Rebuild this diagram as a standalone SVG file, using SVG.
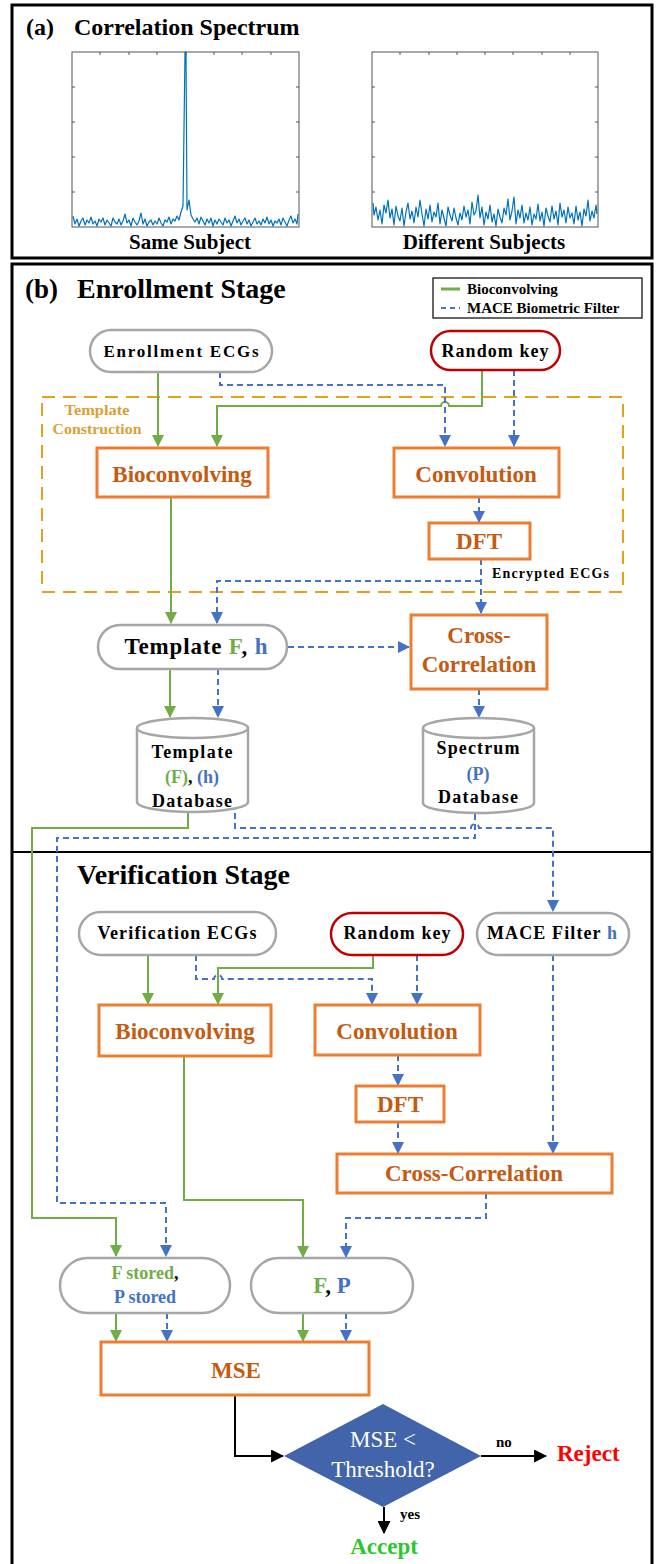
<svg xmlns="http://www.w3.org/2000/svg" width="659" height="1564" viewBox="0 0 659 1564" font-family="'Liberation Serif','Times New Roman',serif">
<style>
text{font-family:"Liberation Serif","Times New Roman",serif;font-weight:bold;}
.frame{fill:none;stroke:#000;stroke-width:3;}
.plot{fill:#fff;stroke:#555;stroke-width:1;}
.tick{fill:none;stroke:#555;stroke-width:1;}
.sig{fill:none;stroke:#0072BD;stroke-width:1.2;stroke-linejoin:round;}
.proc{fill:#fff;stroke:#ED7D31;stroke-width:3;}
.ptxt{fill:#C55A11;font-size:23px;text-anchor:middle;}
.pill{fill:#fff;stroke:#A6A6A6;stroke-width:2.5;}
.key{fill:#fff;stroke:#C00000;stroke-width:2.5;}
.ntxt{text-anchor:middle;}
.g{fill:none;stroke:#70AD47;stroke-width:2;}
.b{fill:none;stroke:#4472C4;stroke-width:2;stroke-dasharray:6,4;}
.k{fill:none;stroke:#000;stroke-width:2;}
.gt{fill:#70AD47;}
.bt{fill:#4472C4;}
</style>
<defs>
<marker id="ag" viewBox="0 0 12 12" refX="11" refY="6" markerWidth="12" markerHeight="13" markerUnits="userSpaceOnUse" orient="auto"><path d="M0,0 L12,6 L0,12 z" fill="#70AD47"/></marker>
<marker id="ab" viewBox="0 0 12 12" refX="11" refY="6" markerWidth="12" markerHeight="13" markerUnits="userSpaceOnUse" orient="auto"><path d="M0,0 L12,6 L0,12 z" fill="#4472C4"/></marker>
<marker id="ak" viewBox="0 0 12 12" refX="11" refY="6" markerWidth="13" markerHeight="13" markerUnits="userSpaceOnUse" orient="auto"><path d="M0,0 L12,6 L0,12 z" fill="#000"/></marker>
</defs>
<rect width="659" height="1564" fill="#fff"/>

<!-- Panel (a) -->
<g id="panel-a">
<rect class="frame" x="12" y="5" width="640" height="253"/>
<text x="26" y="35" font-size="24">(a)</text>
<text x="74" y="35" font-size="24">Correlation Spectrum</text>
<rect class="plot" x="72" y="52" width="227" height="175"/>
<path class="tick" d="M100,52v3M129,52v3M157,52v3M186,52v3M214,52v3M242,52v3M271,52v3M72,87h3M72,122h3M72,157h3M72,192h3M299,87h-3M299,122h-3M299,157h-3M299,192h-3"/>
<polyline class="sig" points="73,216 75,224 77,219 79,226 81,221 83,218 85,225 87,220 89,223 91,217 93,224 95,221 97,226 99,219 101,222 103,218 105,225 107,220 109,223 111,226 113,218 115,222 117,224 119,219 121,225 123,221 125,214 127,223 129,220 131,226 133,218 135,222 137,225 139,221 141,213 143,224 145,219 147,226 149,222 151,220 153,225 155,221 157,224 159,218 161,223 163,226 165,220 167,222 169,217 171,224 173,219 175,221 177,216 179,220 181,212 183,206 185,52 186,52 187,210 189,200 191,215 193,219 195,222 197,218 199,224 201,217 203,221 205,225 207,219 209,223 211,218 213,226 215,220 217,224 219,219 221,222 223,225 225,218 227,223 229,220 231,226 233,221 235,216 237,223 239,219 241,225 243,221 245,218 247,224 249,220 251,226 253,222 255,218 257,224 259,221 261,225 263,219 265,223 267,217 269,224 271,220 273,226 275,221 277,223 279,219 281,225 283,218 285,222 287,226 289,220 291,216 293,223 295,219 297,224 298,214"/>
<text x="190" y="249" font-size="21" text-anchor="middle">Same Subject</text>
<rect class="plot" x="372" y="52" width="226" height="175"/>
<path class="tick" d="M400,52v3M429,52v3M457,52v3M485,52v3M513,52v3M542,52v3M570,52v3M372,87h3M372,122h3M372,157h3M372,192h3M598,87h-3M598,122h-3M598,157h-3M598,192h-3"/>
<polyline class="sig" points="373,203 374,215 376,207 378,220 380,210 382,224 384,205 386,213 388,200 390,218 392,209 394,225 396,206 398,216 400,221 402,208 404,226 406,212 408,203 410,219 412,211 414,223 416,207 418,217 420,200 422,214 424,226 426,209 428,219 430,205 432,222 434,212 436,217 438,203 440,224 442,210 444,218 446,226 448,207 450,215 452,221 454,208 456,218 458,225 460,213 462,220 464,206 466,217 468,210 470,224 472,202 474,215 476,211 478,195 480,218 482,207 484,225 486,212 488,219 490,205 492,222 494,214 496,226 498,209 500,217 502,223 504,208 506,215 508,199 510,220 512,211 514,197 516,224 518,210 520,218 522,205 524,223 526,213 528,220 530,207 532,225 534,214 536,219 538,204 540,221 542,212 544,226 546,208 548,216 550,222 552,206 554,219 556,211 558,225 560,203 562,217 564,210 566,223 568,207 570,218 572,213 574,224 576,206 578,220 580,212 582,226 584,209 586,216 588,200 590,221 592,211 594,218 596,205 597,214"/>
<text x="484" y="249" font-size="21" text-anchor="middle">Different Subjects</text>
</g>

<!-- Panel (b) frame -->
<g id="panel-b">
<rect class="frame" x="12" y="264" width="640" height="1310"/>
<line x1="12" y1="852" x2="652" y2="852" stroke="#000" stroke-width="2"/>
<text x="25" y="298" font-size="27">(b)</text>
<text x="77" y="298" font-size="28">Enrollment Stage</text>
<text x="77" y="884" font-size="28">Verification Stage</text>
</g>

<g id="legend">
<rect x="433" y="278" width="209" height="40" fill="#fff" stroke="#333" stroke-width="1.5"/>
<line x1="441" y1="289" x2="460" y2="289" stroke="#70AD47" stroke-width="3"/>
<line x1="441" y1="308" x2="460" y2="308" stroke="#4472C4" stroke-width="2" stroke-dasharray="5,4"/>
<text x="467" y="294" font-size="15">Bioconvolving</text>
<text x="467" y="313" font-size="15">MACE Biometric Filter</text>
</g>

<g id="template-construction">
<rect x="42" y="397" width="581" height="195" fill="none" stroke="#E3A21A" stroke-width="2" stroke-dasharray="13,8"/>
<text x="97" y="415" font-size="15" fill="#DBA035" text-anchor="middle" textLength="65" lengthAdjust="spacingAndGlyphs">Template</text>
<text x="97" y="434" font-size="15" fill="#DBA035" text-anchor="middle" textLength="89" lengthAdjust="spacingAndGlyphs">Construction</text>
</g>

<!-- Connectors -->
<g id="connectors">
<path class="g" d="M158,372V446" marker-end="url(#ag)"/>
<path class="g" d="M482,370V406H449A4,4 0 0 0 441,406H217V446" marker-end="url(#ag)"/>
<path class="b" d="M220,372V385H445V446" marker-end="url(#ab)"/>
<path class="b" d="M514,370V446" marker-end="url(#ab)"/>
<path class="b" d="M479,497V522" marker-end="url(#ab)"/>
<path class="b" d="M481,559V613" marker-end="url(#ab)"/>
<path class="b" d="M481,581H217V623" marker-end="url(#ab)"/>
<path class="g" d="M171,497V623" marker-end="url(#ag)"/>
<path class="b" d="M288,647H409" marker-end="url(#ab)"/>
<path class="g" d="M170,669V717" marker-end="url(#ag)"/>
<path class="b" d="M218,669V717" marker-end="url(#ab)"/>
<path class="b" d="M479,689V717" marker-end="url(#ab)"/>
<path class="g" d="M188,813V828H32V1218H116V1256" marker-end="url(#ag)"/>
<path class="b" d="M475,814V838H57V1203H166V1256" marker-end="url(#ab)"/>
<path class="b" d="M235,813V828H471A4,4 0 0 1 479,828H553V911" marker-end="url(#ab)"/>
<path class="g" d="M148,955V1004" marker-end="url(#ag)"/>
<path class="g" d="M373,955V968H218V1004" marker-end="url(#ag)"/>
<path class="b" d="M196,955V979H214A4,4 0 0 1 222,979H372V1004" marker-end="url(#ab)"/>
<path class="b" d="M417,955V1004" marker-end="url(#ab)"/>
<path class="b" d="M398,1055V1085" marker-end="url(#ab)"/>
<path class="b" d="M398,1122V1153" marker-end="url(#ab)"/>
<path class="b" d="M553,955V1153" marker-end="url(#ab)"/>
<path class="g" d="M184,1056V1200H303V1257" marker-end="url(#ag)"/>
<path class="b" d="M486,1193V1218H346V1257" marker-end="url(#ab)"/>
<path class="g" d="M116,1313V1341" marker-end="url(#ag)"/>
<path class="b" d="M167,1313V1341" marker-end="url(#ab)"/>
<path class="g" d="M303,1313V1341" marker-end="url(#ag)"/>
<path class="b" d="M346,1313V1341" marker-end="url(#ab)"/>
<path class="k" d="M235,1395V1456H283" marker-end="url(#ak)"/>
<path class="k" d="M481,1456H546" marker-end="url(#ak)"/>
<path class="k" d="M384,1507V1533" marker-end="url(#ak)"/>
<text x="496" y="1447" font-size="15">no</text>
<text x="400" y="1519" font-size="15">yes</text>
</g>

<!-- Enrollment nodes -->
<g id="enroll-ecgs">
<rect class="pill" x="90" y="330" width="182" height="42" rx="21"/>
<text class="ntxt" x="181" y="357" font-size="17" textLength="155" lengthAdjust="spacing">Enrollment ECGs</text>
</g>
<g id="enroll-key">
<rect class="key" x="431" y="331" width="129" height="39" rx="19.5"/>
<text class="ntxt" x="495" y="357" font-size="18" textLength="107" lengthAdjust="spacing">Random key</text>
</g>
<g id="enroll-bioconv">
<rect class="proc" x="97" y="448" width="171" height="49"/>
<text class="ptxt" x="182" y="482">Bioconvolving</text>
</g>
<g id="enroll-conv">
<rect class="proc" x="394" y="448" width="165" height="49"/>
<text class="ptxt" x="476" y="482">Convolution</text>
</g>
<g id="enroll-dft">
<rect class="proc" x="429" y="523" width="101" height="36"/>
<text class="ptxt" x="479" y="549">DFT</text>
</g>
<g id="encrypted-label">
<text x="492" y="578" font-size="14" textLength="117" lengthAdjust="spacing">Encrypted ECGs</text>
</g>
<g id="template-fh">
<rect class="pill" x="98" y="625" width="189" height="44" rx="22"/>
<text class="ntxt" x="196" y="654" font-size="23" textLength="143" lengthAdjust="spacing">Template <tspan class="gt">F</tspan>, <tspan class="bt">h</tspan></text>
</g>
<g id="enroll-crosscorr">
<rect class="proc" x="411" y="615" width="136" height="74"/>
<text class="ptxt" x="479" y="643">Cross-</text>
<text class="ptxt" x="479" y="672">Correlation</text>
</g>
<g id="template-db">
<path class="pill" d="M137,728V802A55.5,10 0 0 0 248,802V728"/>
<ellipse class="pill" cx="192.5" cy="728" rx="55.5" ry="10"/>
<text class="ntxt" x="192" y="758" font-size="18" textLength="81" lengthAdjust="spacing">Template</text>
<text class="ntxt" x="192" y="783" font-size="18"><tspan class="gt">(F)</tspan>, <tspan class="bt">(h)</tspan></text>
<text class="ntxt" x="192" y="807" font-size="18" textLength="80" lengthAdjust="spacing">Database</text>
</g>
<g id="spectrum-db">
<path class="pill" d="M423,728V803A55.5,10 0 0 0 534,803V728"/>
<ellipse class="pill" cx="478.5" cy="728" rx="55.5" ry="10"/>
<text class="ntxt" x="478" y="754" font-size="18" textLength="83" lengthAdjust="spacing">Spectrum</text>
<text class="ntxt bt" x="478" y="780" font-size="18">(P)</text>
<text class="ntxt" x="478" y="803" font-size="18" textLength="80" lengthAdjust="spacing">Database</text>
</g>

<!-- Verification nodes -->
<g id="verif-ecgs">
<rect class="pill" x="79" y="912" width="197" height="43" rx="21.5"/>
<text class="ntxt" x="177" y="939" font-size="18" textLength="159" lengthAdjust="spacing">Verification ECGs</text>
</g>
<g id="verif-key">
<rect class="key" x="331" y="913" width="132" height="42" rx="21"/>
<text class="ntxt" x="397" y="939" font-size="18" textLength="107" lengthAdjust="spacing">Random key</text>
</g>
<g id="mace-filter">
<rect class="pill" x="477" y="913" width="152" height="42" rx="21"/>
<text class="ntxt" x="552" y="939" font-size="18" textLength="130" lengthAdjust="spacing">MACE Filter <tspan class="bt">h</tspan></text>
</g>
<g id="verif-bioconv">
<rect class="proc" x="99" y="1005" width="172" height="51"/>
<text class="ptxt" x="185" y="1039">Bioconvolving</text>
</g>
<g id="verif-conv">
<rect class="proc" x="315" y="1005" width="165" height="50"/>
<text class="ptxt" x="397" y="1039">Convolution</text>
</g>
<g id="verif-dft">
<rect class="proc" x="356" y="1086" width="88" height="36"/>
<text class="ptxt" x="400" y="1112">DFT</text>
</g>
<g id="verif-crosscorr">
<rect class="proc" x="337" y="1154" width="275" height="39"/>
<text class="ptxt" x="474" y="1181">Cross-Correlation</text>
</g>
<g id="stored">
<rect class="pill" x="60" y="1258" width="170" height="55" rx="27.5"/>
<text class="ntxt" x="145" y="1279" font-size="18"><tspan class="gt">F stored</tspan>,</text>
<text class="ntxt bt" x="145" y="1303" font-size="18">P stored</text>
</g>
<g id="fp">
<rect class="pill" x="251" y="1258" width="162" height="55" rx="27.5"/>
<text class="ntxt" x="332" y="1293" font-size="23"><tspan class="gt">F</tspan>, <tspan class="bt">P</tspan></text>
</g>
<g id="mse">
<rect class="proc" x="101" y="1342" width="268" height="53"/>
<text class="ptxt" x="236" y="1378">MSE</text>
</g>
<g id="decision">
<polygon points="383,1404 481,1456 383,1507 284,1456" fill="#4264AB"/>
<text x="383" y="1447" font-size="23" fill="#fff" text-anchor="middle" style="font-weight:normal">MSE &lt;</text>
<text x="383" y="1477" font-size="23" fill="#fff" text-anchor="middle" style="font-weight:normal">Threshold?</text>
</g>
<g id="reject">
<text x="557" y="1461" font-size="23" fill="#FF0000">Reject</text>
</g>
<g id="accept">
<text x="384" y="1554" font-size="23" fill="#2DC72D" text-anchor="middle">Accept</text>
</g>
</svg>
